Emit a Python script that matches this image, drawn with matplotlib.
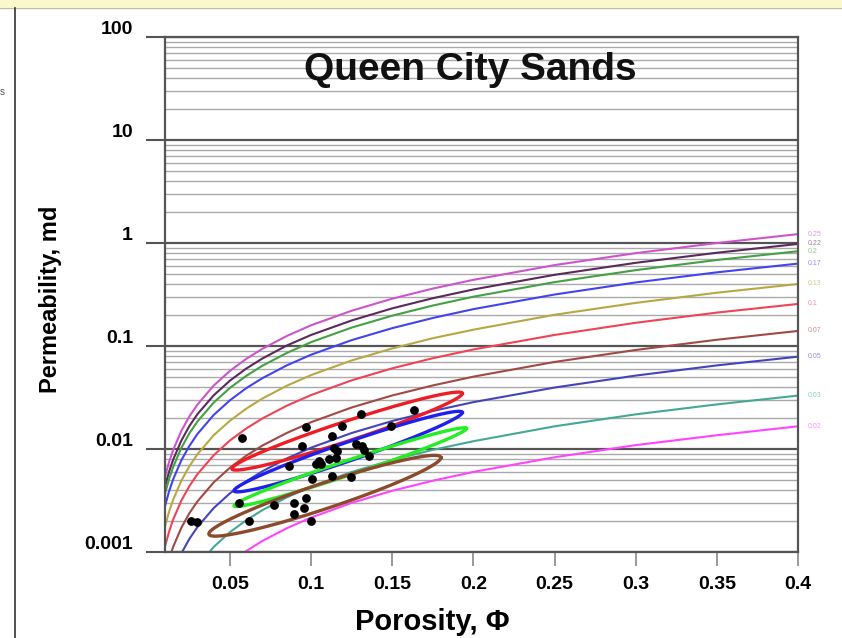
import numpy as np
import matplotlib
matplotlib.use("Agg")
import matplotlib.pyplot as plt
from matplotlib.transforms import ScaledTranslation

plt.rcParams['font.family'] = ['Liberation Sans', 'DejaVu Sans']

# porosity grid the iso-pore-throat curves were read at
phi = [0.01, 0.0125, 0.015, 0.02, 0.025, 0.03, 0.04, 0.05, 0.06, 0.07,
       0.085, 0.1, 0.125, 0.15, 0.175, 0.2, 0.25, 0.3, 0.35, 0.4]

# permeability (md) along each curve
curve_labels = ["0.25", "0.22", "0.2", "0.17", "0.13", "0.1", "0.07", "0.05", "0.03", "0.02"]
k_025 = [0.00538, 0.00747, 0.00977, 0.0149, 0.0207, 0.0270, 0.0413, 0.0573, 0.0749, 0.0939,
         0.125, 0.159, 0.220, 0.288, 0.361, 0.439, 0.610, 0.797, 0.999, 1.22]
k_022 = [0.00433, 0.00601, 0.00786, 0.0120, 0.0167, 0.0218, 0.0332, 0.0461, 0.0603, 0.0756,
         0.101, 0.128, 0.177, 0.232, 0.291, 0.354, 0.491, 0.642, 0.804, 0.979]
k_020 = [0.00368, 0.00511, 0.00668, 0.0102, 0.0142, 0.0185, 0.0282, 0.0392, 0.0512, 0.0643,
         0.0855, 0.109, 0.151, 0.197, 0.247, 0.301, 0.417, 0.545, 0.684, 0.832]
k_017 = [0.00279, 0.00388, 0.00507, 0.00773, 0.0107, 0.0140, 0.0214, 0.0297, 0.0389, 0.0487,
         0.0648, 0.0823, 0.114, 0.149, 0.187, 0.228, 0.316, 0.414, 0.519, 0.631]
k_013 = [0.00177, 0.00246, 0.00321, 0.00490, 0.00680, 0.00889, 0.0136, 0.0188, 0.0246, 0.0309,
         0.0411, 0.0522, 0.0724, 0.0947, 0.119, 0.144, 0.201, 0.262, 0.329, 0.400]
k_010 = [0.00113, 0.00157, 0.00206, 0.00314, 0.00436, 0.00570, 0.00869, 0.0121, 0.0158, 0.0198,
         0.0263, 0.0334, 0.0464, 0.0607, 0.0761, 0.0925, 0.128, 0.168, 0.211, 0.256]
k_007 = [0.000618, 0.000858, 0.00112, 0.00171, 0.00238, 0.00310, 0.00474, 0.00658, 0.00860, 0.0108,
         0.0143, 0.0182, 0.0253, 0.0331, 0.0414, 0.0504, 0.0700, 0.0915, 0.115, 0.140]
k_005 = [0.000349, 0.000484, 0.000633, 0.000966, 0.00134, 0.00175, 0.00267, 0.00371, 0.00485, 0.00608,
         0.00809, 0.0103, 0.0143, 0.0187, 0.0234, 0.0285, 0.0395, 0.0516, 0.0648, 0.0788]
k_003 = [0.000146, 0.000203, 0.000265, 0.000405, 0.000562, 0.000735, 0.00112, 0.00156, 0.00203, 0.00255,
         0.00339, 0.00431, 0.00598, 0.00782, 0.00981, 0.0119, 0.0166, 0.0217, 0.0271, 0.0330]
k_002 = [0.0000734, 0.000102, 0.000133, 0.000203, 0.000282, 0.000369, 0.000563, 0.000781, 0.00102, 0.00128,
         0.00170, 0.00216, 0.00300, 0.00393, 0.00492, 0.00599, 0.00831, 0.0109, 0.0136, 0.0166]
curves = [k_025, k_022, k_020, k_017, k_013, k_010, k_007, k_005, k_003, k_002]
curve_colors = ["#cc55cc", "#5a2a5a", "#44a044", "#4444ee", "#b8a844",
                "#ee4455", "#a04a44", "#4444bb", "#44a898", "#ff44ff"]

# ellipses: two end points (phi, k) and vertical half thickness in decades
ell_colors = ["#ee1c24", "#2020ee", "#22ee22", "#8b4a2b"]
ell_end1 = [(0.0512, 0.00644), (0.0525, 0.00394), (0.0525, 0.00281), (0.037, 0.0015)]
ell_end2 = [(0.1932, 0.0346), (0.1932, 0.0226), (0.1957, 0.0158), (0.180, 0.00824)]
ell_half = [0.10, 0.095, 0.075, 0.13]

# core samples
pts_phi = [0.0574, 0.0969, 0.1191, 0.1309, 0.1636, 0.1494, 0.1130, 0.0944, 0.0864, 0.1049,
           0.1062, 0.1111, 0.1154, 0.1160, 0.1142, 0.1278, 0.1315, 0.1327, 0.1358, 0.1006,
           0.1130, 0.1247, 0.0556, 0.0772, 0.0895, 0.0969, 0.0957, 0.0895, 0.0617, 0.0259,
           0.0296, 0.1000, 0.1031]
pts_k = [0.0129, 0.0162, 0.0169, 0.0221, 0.0237, 0.0169, 0.0135, 0.0108, 0.00689, 0.0077,
         0.00721, 0.00807, 0.00825, 0.00965, 0.0103, 0.0113, 0.0108, 0.00987, 0.00863, 0.00515,
         0.00551, 0.00538, 0.00301, 0.00287, 0.00301, 0.00337, 0.00269, 0.00235, 0.00201, 0.00201,
         0.00196, 0.00201, 0.0072]

x_ticks = [0.05, 0.1, 0.15, 0.2, 0.25, 0.3, 0.35, 0.4]
x_ticklabels = ["0.05", "0.1", "0.15", "0.2", "0.25", "0.3", "0.35", "0.4"]
y_ticks = [0.001, 0.01, 0.1, 1, 10, 100]
y_ticklabels = ["0.001", "0.01", "0.1", "1", "10", "100"]

fig = plt.figure(figsize=(8.42, 6.38), dpi=100)

# screenshot surroundings
fig.patches.append(plt.Rectangle((0, 1 - 7 / 638), 1, 7 / 638, transform=fig.transFigure,
                                 facecolor="#fbf8cc", edgecolor="none"))
fig.add_artist(plt.Line2D([0, 1], [1 - 8 / 638] * 2, color="#c8c090", lw=1))
fig.add_artist(plt.Line2D([15 / 842] * 2, [0, 1 - 8 / 638], color="#333333", lw=1.2))
fig.text(0.0, 1 - 92 / 638, "s", fontsize=7, color="#555555", va="center")

ax = fig.add_axes([165 / 842, 86 / 638, 633 / 842, 515 / 638])
ax.set_yscale("log")
ax.set_xlim(0.01, 0.4)
ax.set_ylim(0.001, 100)

ax.grid(True, which="minor", axis="y", color="#aaaaaa", lw=1.0)
ax.grid(True, which="major", axis="y", color="#555555", lw=1.6)
ax.set_axisbelow(True)

for k, c, lab in zip(curves, curve_colors, curve_labels):
    ax.plot(phi, k, color=c, lw=1.5)
    ax.annotate(lab, (0.4, k[-1]), xytext=(7, 0), textcoords="offset points",
                fontsize=5, color=c, alpha=0.6, va="center", annotation_clip=False)

t = np.linspace(0, 2 * np.pi, 300)
for c, e1, e2, h in zip(ell_colors, ell_end1, ell_end2, ell_half):
    cx = (e1[0] + e2[0]) / 2
    cy = (np.log10(e1[1]) + np.log10(e2[1])) / 2
    mx = (e2[0] - e1[0]) / 2
    my = (np.log10(e2[1]) - np.log10(e1[1])) / 2
    ax.plot(cx + mx * np.cos(t), 10 ** (cy + my * np.cos(t) + h * np.sin(t)), color=c, lw=2.4)

ax.scatter(pts_phi, pts_k, s=28, color="black", zorder=5)

ax.set_xticks(x_ticks)
ax.set_xticklabels(x_ticklabels)
ax.set_yticks(y_ticks)
ax.set_yticklabels(y_ticklabels)
ax.tick_params(axis="y", which="major", length=14, width=1.5, color="#555555", pad=9,
               labelsize=14)
ax.tick_params(axis="y", which="minor", length=0)
ax.tick_params(axis="x", length=10, width=1.2, color="#888888", pad=7, labelsize=14)
for lab in ax.get_xticklabels() + ax.get_yticklabels():
    lab.set_fontweight("bold")
for lab in ax.get_yticklabels():
    lab.set_transform(lab.get_transform() + ScaledTranslation(0, 7 / 72, fig.dpi_scale_trans))

for s in ax.spines.values():
    s.set_color("#555555")
    s.set_linewidth(1.6)

ax.set_ylabel("Permeability, md", fontsize=17, fontweight="bold")
ax.yaxis.set_label_coords(-103 / 633, 0.49)
ax.set_xlabel("Porosity, \u03a6", fontsize=21, fontweight="bold")
ax.xaxis.set_label_coords((432 - 165) / 633, -56 / 515)

ax.text((470 - 165) / 633, (552 - 70) / 515, "Queen City Sands", transform=ax.transAxes,
        fontsize=28, fontweight="bold", ha="center", va="center", color="#111111")

fig.savefig("out.png", dpi=100)
